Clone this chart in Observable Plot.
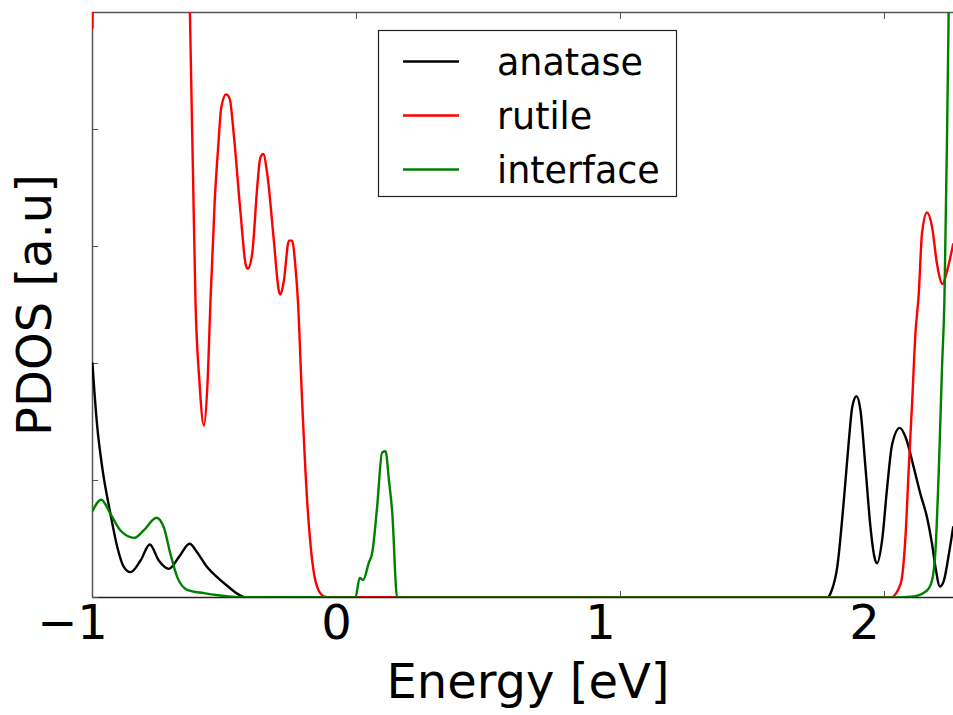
<!DOCTYPE html>
<html><head><meta charset="utf-8">
<script src="https://cdn.jsdelivr.net/npm/d3@7"></script>
<script src="https://cdn.jsdelivr.net/npm/@observablehq/plot@0.6"></script>
<style>body{margin:0;background:#fff}#chart{width:953px;height:715px}</style>
</head><body><div id="chart"></div>
<script>
// ---- data ----
const seriesNames = ["anatase", "rutile", "interface"];
const seriesColors = ["#000000", "#ff0000", "#008000"];

const anataseE = [-1.0, -0.995, -0.982, -0.963, -0.932, -0.906, -0.881, -0.856, -0.818, -0.783, -0.749, -0.711, -0.673, -0.632, -0.604, -0.566, -0.528, -0.49, -0.44, -0.414,
  1.783, 1.80, 1.821, 1.846, 1.865, 1.878, 1.894, 1.909, 1.928, 1.947, 1.962, 1.972, 1.991, 2.01, 2.029, 2.058, 2.08, 2.111, 2.136, 2.161, 2.18, 2.193, 2.21, 2.225, 2.244, 2.26];
const anataseD = [2.0, 1.83, 1.46, 1.11, 0.715, 0.43, 0.26, 0.217, 0.316, 0.453, 0.316, 0.245, 0.345, 0.459, 0.387, 0.26, 0.174, 0.1, 0.017, 0,
  0, 0.06, 0.26, 0.83, 1.34, 1.63, 1.72, 1.6, 1.11, 0.6, 0.345, 0.293, 0.49, 0.94, 1.31, 1.45, 1.37, 1.11, 0.886, 0.686, 0.46, 0.26, 0.094, 0.145, 0.373, 0.6];

const rutileE = [-1.0, -0.995, -0.65, -0.631, -0.62, -0.61, -0.595, -0.578, -0.565, -0.553, -0.537, -0.524, -0.512, -0.494, -0.480, -0.465, -0.439, -0.420, -0.412, -0.395, -0.376, -0.364, -0.353, -0.338, -0.313, -0.294, -0.288, -0.275, -0.256, -0.244, -0.231, -0.222, -0.206, -0.187, -0.168, -0.149, -0.124, -0.10,
  2.023, 2.061, 2.08, 2.092, 2.105, 2.117, 2.13, 2.142, 2.161, 2.18, 2.199, 2.22, 2.237, 2.26];
const rutileD = [4.87, 8, 8, 5.0, 3.7, 2.54, 1.85, 1.47, 1.8, 2.54, 3.39, 3.85, 4.19, 4.30, 4.26, 3.96, 3.28, 2.85, 2.81, 2.94, 3.51, 3.76, 3.79, 3.62, 3.05, 2.62, 2.59, 2.71, 3.05, 3.05, 2.82, 2.54, 1.68, 0.83, 0.32, 0.09, 0.01, 0,
  0, 0.117, 0.54, 1.11, 1.68, 2.25, 2.6, 3.11, 3.29, 3.17, 2.85, 2.68, 2.79, 3.02];

const interfaceE = [-1.0, -0.967, -0.932, -0.894, -0.841, -0.806, -0.758, -0.73, -0.705, -0.679, -0.641, -0.578, -0.515, -0.452,
  -0.004, 0.012, 0.025, 0.047, 0.06, 0.078, 0.097, 0.11, 0.123, 0.135, 0.154,
  2.035, 2.111, 2.161, 2.18, 2.193, 2.206, 2.218, 2.227, 2.237, 2.243, 2.25];
const interfaceD = [0.74, 0.835, 0.715, 0.573, 0.51, 0.573, 0.681, 0.6, 0.373, 0.174, 0.066, 0.037, 0.017, 0.003,
  0, 0.168, 0.15, 0.30, 0.387, 0.77, 1.24, 1.25, 1.0, 0.74, 0,
  0, 0.01, 0.06, 0.145, 0.4, 1.11, 1.97, 2.54, 3.96, 4.99, 6.0];

const xTicks = [-1, 0, 1, 2];
const yTicks = [0, 1, 2, 3, 4, 5];
const xDomain = [-1, 2.2614];
const yDomain = [0, 5];

// ---- build table ----
const energies = [anataseE, rutileE, interfaceE];
const values = [anataseD, rutileD, interfaceD];
const rows = [];
seriesNames.forEach((s, k) => energies[k].forEach((e, i) => rows.push({series: s, E: e, V: values[k][i]})));

const spine = "#555";
const fmt = d3.format("d");
const chart = Plot.plot({
  width: 953, height: 715,
  marginLeft: 92, marginRight: 0, marginTop: 12, marginBottom: 118,
  style: {fontFamily: "DejaVu Sans", background: "white", color: "black"},
  x: {domain: xDomain},
  y: {domain: yDomain},
  color: {domain: seriesNames, range: seriesColors},
  marks: [
    Plot.ruleY([yDomain[1]], {stroke: spine, strokeWidth: 1.5}),
    Plot.ruleX([xDomain[0]], {stroke: spine, strokeWidth: 1.5}),
    Plot.ruleY([yDomain[0]], {stroke: "#222", strokeWidth: 1.5}),
    Plot.axisY({anchor: "left", ticks: yTicks, tickSize: -6, tickFormat: () => "", label: null, stroke: spine}),
    Plot.axisX({anchor: "bottom", ticks: xTicks, tickSize: -6, tickFormat: () => "", label: null, stroke: spine}),
    Plot.axisX({anchor: "top", ticks: xTicks, tickSize: -6, tickFormat: () => "", label: null, stroke: spine}),
    Plot.axisX({anchor: "bottom", ticks: xTicks, tickSize: 0, tickPadding: 7, dx: -20, fontSize: 48, label: null, fill: "black", tickFormat: fmt}),
    Plot.line(rows, {x: "E", y: "V", z: "series", stroke: "series", strokeWidth: 2.4, curve: "monotone-x", clip: true}),
    Plot.text(["Energy [eV]"], {text: d => d, frameAnchor: "bottom", dy: 100, dx: 5, fontSize: 48, fill: "black"}),
    Plot.text(["PDOS [a.u]"], {text: d => d, frameAnchor: "left", textAnchor: "middle", rotate: -90, dx: -57, fontSize: 48, fill: "black"})
  ]
});
document.getElementById("chart").appendChild(chart);

// ---- legend (drawn into the same svg) ----
const svg = d3.select(chart);
const lg = svg.append("g").attr("font-family", "DejaVu Sans").attr("text-anchor", "start");
lg.append("rect").attr("x", 378.5).attr("y", 30.5).attr("width", 298).attr("height", 166)
  .attr("fill", "white").attr("stroke", "#222").attr("stroke-width", 1.2);
seriesNames.forEach((s, i) => {
  const cy = 61.5 + i * 54;
  lg.append("line").attr("x1", 403).attr("x2", 459).attr("y1", cy).attr("y2", cy)
    .attr("stroke", seriesColors[i]).attr("stroke-width", 2.4);
  lg.append("text").attr("x", 497).attr("y", cy + 13.5).attr("font-size", 36.5).attr("fill", "black").attr("text-anchor", "start").text(s);
});
</script>
</body></html>
